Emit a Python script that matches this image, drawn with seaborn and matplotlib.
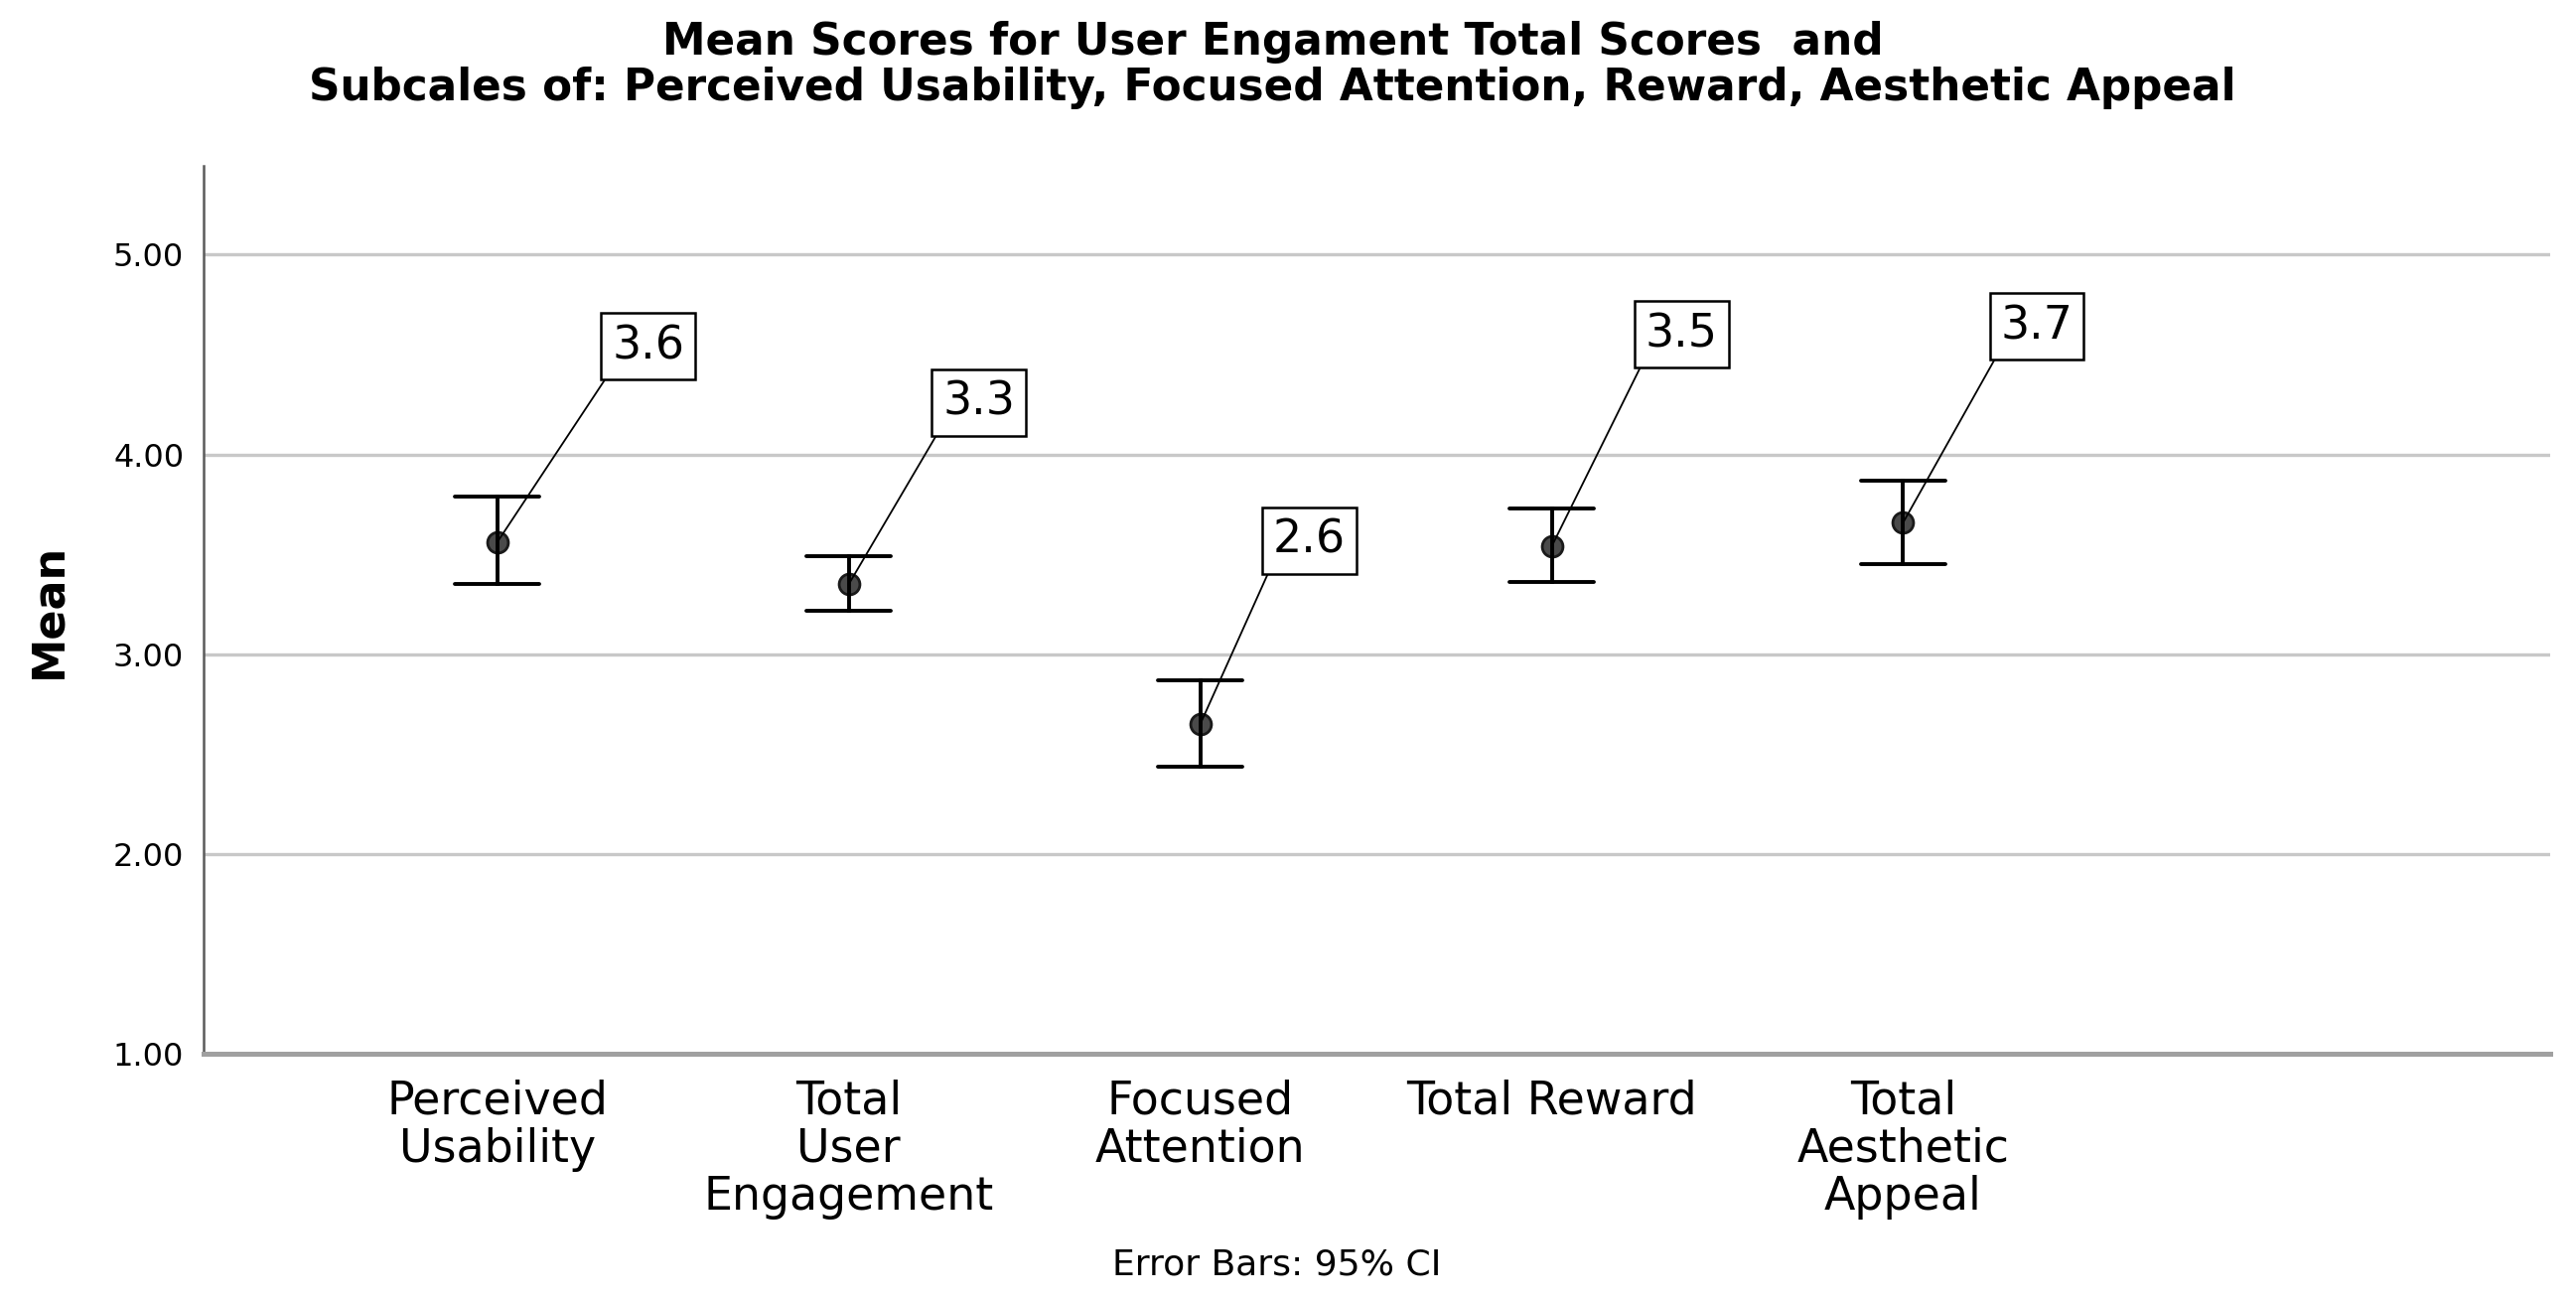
import numpy as np
import pandas as pd
import matplotlib
matplotlib.use("Agg")
import matplotlib.pyplot as plt
import seaborn as sns

# Values (means with 95% CI)
categories = ["Perceived\nUsability", "Total\nUser\nEngagement", "Focused\nAttention",
              "Total Reward", "Total\nAesthetic\nAppeal"]
means = [3.56, 3.35, 2.65, 3.54, 3.66]
ci_low = [3.35, 3.22, 2.44, 3.36, 3.45]
ci_high = [3.79, 3.49, 2.87, 3.73, 3.87]
labels = ["3.6", "3.3", "2.6", "3.5", "3.7"]

# where the value boxes sit, relative to each point
label_dx = [0.43, 0.37, 0.31, 0.37, 0.38]
label_y = [4.54, 4.26, 3.57, 4.60, 4.64]

# long table: low / mean / high per category -> median = mean, min/max = CI
rows = []
for c, lo, m, hi in zip(categories, ci_low, means, ci_high):
    for v in (lo, m, hi):
        rows.append({"Scale": c, "Score": v})
df = pd.DataFrame(rows)

sns.set_style("white")
plt.rcParams['font.family'] = ['DejaVu Sans']
plt.rcParams['text.color'] = 'black'
plt.rcParams['xtick.color'] = 'black'
plt.rcParams['ytick.color'] = 'black'

fig = plt.figure(figsize=(25.94, 13.12), dpi=100)
ax = fig.add_axes([0.0789, 0.191, 0.911, 0.682])

sns.pointplot(data=df, x="Scale", y="Score", order=categories,
              estimator=np.median, errorbar=lambda v: (v.min(), v.max()),
              capsize=0.24, linestyle="none", color="#4a4a4a",
              marker="o", markersize=15, markeredgecolor="#1a1a1a",
              err_kws={"color": "black", "linewidth": 2.8}, ax=ax)

for i, (m, t, dx, ly) in enumerate(zip(means, labels, label_dx, label_y)):
    ax.annotate(t, xy=(i, m), xytext=(i + dx, ly), ha="center", va="center",
                fontsize=33, color="black", zorder=5,
                bbox=dict(boxstyle="square,pad=0.24", fc="white", ec="black", lw=1.8),
                arrowprops=dict(arrowstyle="-", color="black", lw=1.3,
                                shrinkA=0, shrinkB=0, relpos=(0, 0)))

ax.set_xlim(-0.836, 5.84)
ax.set_ylim(1, 5.446)
ax.set_yticks([1, 2, 3, 4, 5])
ax.set_yticklabels(["%.2f" % v for v in [1, 2, 3, 4, 5]], fontsize=23)
ax.set_xticks(range(len(categories)))
ax.set_xticklabels(categories, fontsize=33, linespacing=1.1, va="top")
ax.tick_params(axis="both", length=0)
ax.tick_params(axis="x", pad=18)
ax.tick_params(axis="y", pad=14)

ax.yaxis.grid(True, color="#c8c8c8", linewidth=2.4)
ax.set_axisbelow(True)
for s in ["top", "right"]:
    ax.spines[s].set_visible(False)
ax.spines["left"].set_color("#5a5a5a")
ax.spines["left"].set_linewidth(1.8)
ax.spines["bottom"].set_color("#a0a0a0")
ax.spines["bottom"].set_linewidth(3.6)
ax.set_xlabel("")
ax.set_ylabel("")

fig.text(0.019, 0.531, "Mean", rotation=90, fontsize=32, fontweight="bold",
         ha="center", va="center")
fig.text(0.494, 0.95, "Mean Scores for User Engament Total Scores  and\n"
         "Subcales of: Perceived Usability, Focused Attention, Reward, Aesthetic Appeal",
         ha="center", va="center", fontsize=31.5, fontweight="bold", linespacing=1.1)
fig.text(0.4955, 0.029, "Error Bars: 95% CI", ha="center", va="center", fontsize=26)

fig.savefig("out.png", dpi=100, facecolor="white")
